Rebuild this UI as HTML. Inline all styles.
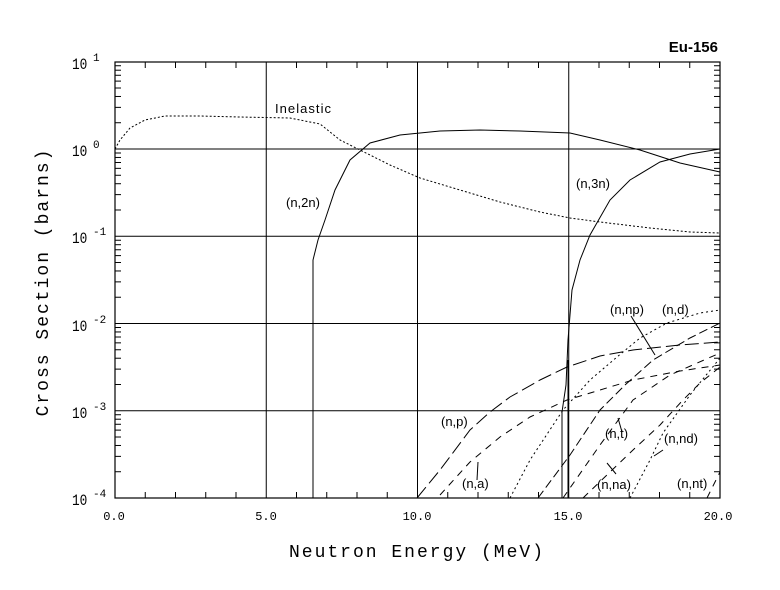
<!DOCTYPE html>
<html><head><meta charset="utf-8"><style>
html,body{margin:0;padding:0;background:#fff;}
svg{display:block;}
text{font-family:"Liberation Sans",sans-serif;}
.m{font-family:"Liberation Mono",monospace;}
</style></head><body>
<svg id="s" width="780" height="590" viewBox="0 0 780 590" xmlns="http://www.w3.org/2000/svg">
<rect width="780" height="590" fill="#fff"/>
<g id="g" stroke="#000" fill="none" stroke-width="1"></g>
<rect x="115" y="62" width="605" height="436" fill="none" stroke="#000" stroke-width="1.2"/>
<text x="718" y="52" text-anchor="end" font-size="15" font-weight="bold">Eu-156</text>
<g class="m" font-size="16" fill="#000">
<text transform="translate(72,69) scale(0.8,1)" class="m">10</text><text x="93" y="61" class="m" font-size="11">1</text>
<text transform="translate(72,156) scale(0.8,1)" class="m">10</text><text x="93" y="148" class="m" font-size="11">0</text>
<text transform="translate(72,243) scale(0.8,1)" class="m">10</text><text x="93" y="235" class="m" font-size="11">-1</text>
<text transform="translate(72,331) scale(0.8,1)" class="m">10</text><text x="93" y="323" class="m" font-size="11">-2</text>
<text transform="translate(72,418) scale(0.8,1)" class="m">10</text><text x="93" y="410" class="m" font-size="11">-3</text>
<text transform="translate(72,505) scale(0.8,1)" class="m">10</text><text x="93" y="497" class="m" font-size="11">-4</text>
<text x="114" y="520" text-anchor="middle" class="m" font-size="12">0.0</text>
<text x="266" y="520" text-anchor="middle" class="m" font-size="12">5.0</text>
<text x="417" y="520" text-anchor="middle" class="m" font-size="12">10.0</text>
<text x="568" y="520" text-anchor="middle" class="m" font-size="12">15.0</text>
<text x="718" y="520" text-anchor="middle" class="m" font-size="12">20.0</text>
</g>
<text x="417" y="557" text-anchor="middle" class="m" font-size="18" letter-spacing="2">Neutron Energy (MeV)</text>
<text transform="translate(48,282) rotate(-90)" text-anchor="middle" class="m" font-size="18" letter-spacing="2">Cross Section (barns)</text>
<g font-size="13" fill="#000" font-stretch="condensed">
<text x="275" y="113" textLength="56">Inelastic</text>
<text x="286" y="207">(n,2n)</text>
<text x="576" y="188">(n,3n)</text>
<text x="610" y="314">(n,np)</text>
<text x="662" y="314">(n,d)</text>
<text x="441" y="426">(n,p)</text>
<text x="462" y="488">(n,a)</text>
<text x="605" y="438">(n,t)</text>
<text x="664" y="443">(n,nd)</text>
<text x="597" y="489">(n,na)</text>
<text x="677" y="488">(n,nt)</text>
</g>
</svg>
<script>
const g=document.getElementById('g');
function el(t,a){const e=document.createElementNS('http://www.w3.org/2000/svg',t);for(const k in a)e.setAttribute(k,a[k]);g.appendChild(e);return e;}
const X=e=>115+30.25*e, Y=d=>149-87.25*d;
for(let i=1;i<4;i++){el('line',{x1:X(5*i),x2:X(5*i),y1:62,y2:498});}
for(let d=-3;d<=0;d++){el('line',{x1:115,x2:720,y1:Y(d),y2:Y(d)});}
for(let d=-4;d<1;d++)for(let k=2;k<10;k++){const y=Y(d+Math.log10(k));el('line',{x1:115,x2:121,y1:y,y2:y});el('line',{x1:714,x2:720,y1:y,y2:y});}
for(let e=1;e<20;e++){if(e%5==0)continue;el('line',{x1:X(e),x2:X(e),y1:498,y2:492});el('line',{x1:X(e),x2:X(e),y1:62,y2:68});}
function pl(p,da){el('polyline',{points:p,'stroke-dasharray':da||'none'});}
pl("115,149 120,140 130,128 145,120 165,116 200,116 240,117 290,118 320,124 340,140 360,150 390,165 420,178 460,190 500,202 540,212 570,218 600,222 650,228 690,232 720,233","2,2");
pl("313,498 313,260 318,240 325,220 335,190 350,160 370,143 400,135 440,131 480,130 520,131 570,133 600,140 640,150 680,163 720,172");
pl("562,498 562,412 566,385 568,340 572,290 580,260 590,235 610,200 630,180 660,162 690,154 720,149");
pl("568,498 568,360");
pl("417,498 440,470 470,430 490,412 510,397 540,380 567,367 600,356 633,350 680,345 720,342","14,5");
pl("440,495 470,462 500,437 530,417 567,400 600,390 633,380 680,371 720,365","7,6");
pl("510,498 530,460 563,410 590,380 617,357 640,338 667,323 700,313 720,310","2,3");
pl("538,498 570,455 600,410 625,385 653,360 690,338 720,323","9,4");
pl("563,498 600,445 633,400 670,375 720,353","7,6");
pl("583,498 610,472 633,450 660,425 683,400 700,383 720,367","7,6");
pl("630,498 650,460 663,433 690,395 720,358","2,3");
pl("707,498 720,472","7,6");
pl("631,316 655,355");pl("478,462 477,480");pl("618,418 622,432");pl("663,450 654,456");pl("607,463 616,474");
</script>
</body></html>
